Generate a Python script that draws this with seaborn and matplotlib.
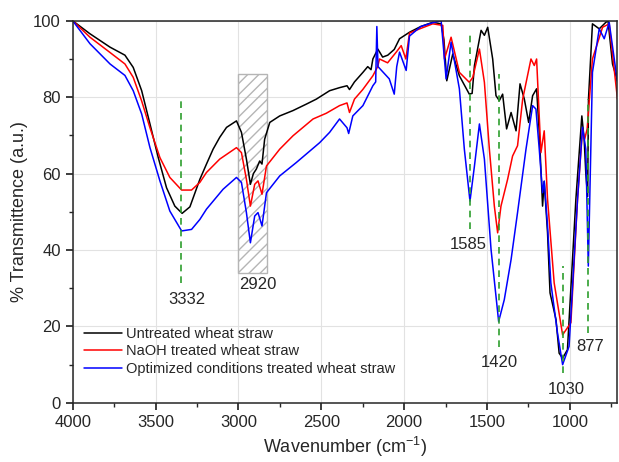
import pandas as pd
import numpy as np
import matplotlib
matplotlib.use('Agg')
import matplotlib.pyplot as plt
from matplotlib.patches import Rectangle
import seaborn as sns

# keypoints (wavenumber, % transmittance)
wn_untreated = [4000, 3896, 3775, 3685, 3635, 3584, 3534, 3484, 3434, 3384, 3340, 3293, 3233, 3193,
                3153, 3113, 3072, 3012, 2982, 2952, 2928, 2910, 2892, 2872, 2858, 2842, 2811, 2751,
                2671, 2590, 2530, 2450, 2390, 2345, 2330, 2300, 2249, 2220, 2200, 2189, 2159, 2130,
                2099, 2060, 2028, 1968, 1900, 1828, 1777, 1760, 1743, 1707, 1667, 1607, 1590, 1576,
                1536, 1516, 1496, 1466, 1446, 1426, 1406, 1382, 1355, 1325, 1301, 1275, 1249, 1225,
                1201, 1185, 1165, 1155, 1135, 1120, 1084, 1065, 1044, 1015, 964, 928, 914, 904, 893,
                888, 864, 823, 783, 770, 743, 713]
t_untreated = [100, 96.6, 93.1, 91, 87.8, 81.7, 73, 64.2, 56.3, 51.5, 49.6, 51.3, 58.5, 62.5,
               66.4, 69.5, 72.1, 73.8, 70.8, 63.8, 57.2, 60, 61.2, 63.3, 62.5, 69, 73.4, 75.1,
               76.5, 78.2, 79.5, 81.7, 82.5, 83, 82, 84, 86.5, 88, 87.2, 90, 92.6, 90.5,
               91, 92.5, 95.3, 97, 98.5, 99.6, 99.2, 95, 84.3, 91.3, 85.6, 80.8, 81, 88.3,
               97.5, 96.2, 98.3, 90, 80.4, 79.1, 80.8, 71.7, 76, 71.2, 83.5, 79.5, 73.4, 80.4,
               82.2, 70.8, 51.5, 58, 44.5, 28.8, 21.8, 13, 11.7, 13.9, 53.3, 75.1, 69, 60, 54,
               79.5, 99.2, 97.9, 99.6, 100, 88.7, 84.3]

wn_naoh = [4000, 3896, 3775, 3685, 3635, 3584, 3534, 3474, 3414, 3343, 3283, 3233, 3193, 3113,
           3012, 2982, 2952, 2928, 2902, 2882, 2858, 2831, 2751, 2671, 2550, 2470, 2390, 2345,
           2330, 2300, 2250, 2189, 2160, 2149, 2100, 2048, 2018, 1990, 1968, 1900, 1828, 1767,
           1757, 1717, 1667, 1607, 1586, 1546, 1516, 1486, 1456, 1436, 1416, 1376, 1346, 1316,
           1285, 1235, 1215, 1201, 1175, 1155, 1135, 1095, 1044, 994, 954, 924, 911, 896, 864,
           803, 763, 713]
t_naoh = [100, 95.7, 91.7, 88.7, 85.2, 79, 72, 64.2, 59, 55.7, 55.7, 57.7, 60.3, 63.8,
          66.8, 65.5, 58.5, 51.5, 57.2, 58.1, 54.6, 62, 66.4, 69.9, 74.3, 75.8, 77.8, 78.5,
          76, 79.5, 82, 85.6, 88, 90, 89, 91.8, 93.5, 90, 96.8, 98, 99.2, 98.8,
          90, 95.7, 86.5, 83.9, 85.2, 92.6, 83.9, 66.4, 51.5, 44.5, 51.5, 58.5, 64.6, 67.3,
          79.5, 90, 88.3, 90, 65.5, 71.2, 53.3, 31.4, 17.8, 21, 53.3, 71.7, 69, 71.7, 90,
          98.3, 99.2, 79.5]

wn_optim = [4000, 3896, 3775, 3685, 3635, 3584, 3534, 3474, 3414, 3343, 3283, 3233, 3193, 3093,
            3012, 2982, 2952, 2928, 2902, 2882, 2858, 2831, 2751, 2651, 2510, 2450, 2390, 2345,
            2335, 2310, 2249, 2189, 2172, 2165, 2158, 2090, 2060, 2045, 2028, 1988, 1968, 1900,
            1828, 1777, 1747, 1717, 1667, 1637, 1603, 1576, 1546, 1516, 1476, 1430, 1396, 1355,
            1316, 1265, 1225, 1205, 1185, 1165, 1155, 1135, 1115, 1075, 1044, 1005, 954, 924, 904,
            889, 864, 823, 793, 763, 713]
t_optim = [100, 94, 88.7, 85.7, 81.7, 75.6, 66.8, 58.1, 50.2, 45, 45.4, 48, 50.7, 55.9,
           59, 57.7, 49.8, 41.9, 48.9, 49.8, 46.3, 55, 59.4, 62.9, 68.1, 70.8, 74.3, 72,
           70.5, 75.1, 77.8, 83, 84, 98.5, 88, 84.8, 80.8, 88, 91.8, 87, 96, 98.5,
           99.5, 100, 84.8, 94.4, 82.2, 66.4, 52.8, 62, 73, 63.8, 40.2, 21.3, 27, 37.5,
           49.8, 66.4, 77.8, 76.9, 66.4, 55, 58, 46.3, 31.4, 18.3, 10, 14.8, 53.3, 72.1, 66.4,
           35.8, 86.5, 97.9, 95.3, 99.6, 83.9]

labels = ['Untreated wheat straw', 'NaOH treated wheat straw',
          'Optimized conditions treated wheat straw']

# marked bands: label text, line position, line range, label position
peak_labels = ['3332', '1585', '1420', '1030', '877']
peak_wn = [3345, 1603, 1430, 1039, 889]
peak_lo = [31.5, 45.4, 14.7, 7.8, 18.3]
peak_hi = [79.5, 97, 86, 35.7, 79.5]
label_wn = [3313, 1611, 1426, 1024, 880]
label_t = [27, 41.5, 10.5, 3.4, 14.8]

df = pd.concat([
    pd.DataFrame({'wn': wn_untreated, 'T': t_untreated, 'sample': labels[0]}),
    pd.DataFrame({'wn': wn_naoh, 'T': t_naoh, 'sample': labels[1]}),
    pd.DataFrame({'wn': wn_optim, 'T': t_optim, 'sample': labels[2]}),
])

sns.set_theme(style='ticks')
plt.rcParams['font.family'] = ['Liberation Sans', 'DejaVu Sans']
plt.rcParams['mathtext.default'] = 'regular'

fig = plt.figure(figsize=(6.19, 4.62), dpi=100)
ax = fig.add_axes([0.1175, 0.128, 0.8795, 0.827])

sns.lineplot(data=df, x='wn', y='T', hue='sample', hue_order=labels,
             palette=['black', 'red', 'blue'], estimator=None, sort=False,
             lw=1.1, ax=ax)

for w, lo, hi in zip(peak_wn, peak_lo, peak_hi):
    ax.plot([w, w], [lo, hi], ls='--', color='#2e9e2e', lw=1.2, dashes=(4, 3))
for txt, w, t in zip(peak_labels, label_wn, label_t):
    ax.text(w, t, txt, ha='center', va='center', fontsize=12)

ax.add_patch(Rectangle((2825, 34), 179, 52, fill=False, edgecolor='#b5b5b5',
                       hatch='///', lw=1))
ax.text(2884, 31, '2920', ha='center', va='center', fontsize=12)

ax.set_xlim(4000, 715)
ax.set_ylim(0, 100)
ax.set_xticks([4000, 3500, 3000, 2500, 2000, 1500, 1000])
ax.set_xticks(np.arange(3750, 700, -500), minor=True)
ax.set_yticks(np.arange(0, 101, 20))
ax.set_yticks(np.arange(10, 100, 20), minor=True)
ax.grid(True, which='major', color='#e2e2e2', lw=0.8)
ax.tick_params(axis='both', which='major', labelsize=12, length=5, direction='out')
ax.tick_params(axis='both', which='minor', length=3, direction='out')
for s in ax.spines.values():
    s.set_linewidth(1.1)

ax.set_xlabel('Wavenumber (cm$^{-1}$)', fontsize=13)
ax.set_ylabel('% Transmittence (a.u.)', fontsize=13)

ax.legend(loc='lower left', bbox_to_anchor=(0.01, 0.055), frameon=False,
          fontsize=10.5, handlelength=2.6, labelspacing=0.25, handletextpad=0.3,
          borderaxespad=0)

plt.savefig('out.png', dpi=100)
